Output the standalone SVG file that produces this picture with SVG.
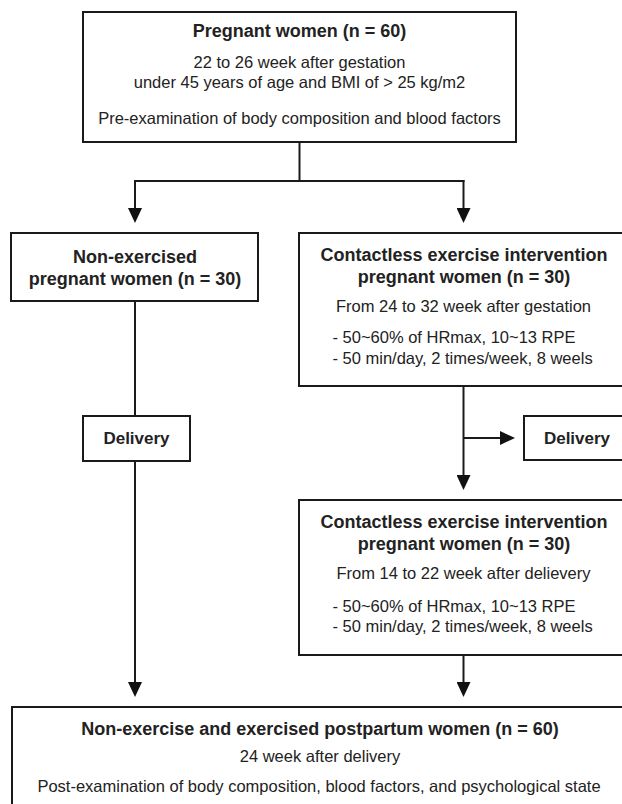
<svg xmlns="http://www.w3.org/2000/svg" width="622" height="804" viewBox="0 0 622 804">
<style>
.box{fill:#fff;stroke:#1a1a1a;stroke-width:2}
.ln{fill:none;stroke:#1a1a1a;stroke-width:2}
.t{font-family:"Liberation Sans",Arial,sans-serif;fill:#222}
.b{font-size:18px;font-weight:bold;text-anchor:middle}
.d{font-size:17px;font-weight:bold;text-anchor:middle}
.r{font-size:16.5px;text-anchor:middle}
.l{font-size:16.5px}
</style>
<defs>
<marker id="arr" viewBox="0 0 15 14" refX="10" refY="7" markerWidth="15" markerHeight="14" markerUnits="userSpaceOnUse" orient="auto">
<path d="M0,0 L15,7 L0,14 z" fill="#111"/>
</marker>
</defs>
<rect width="622" height="804" fill="#fff"/>
<g id="connectors">
<path class="ln" d="M299.5,142 V181"/>
<path class="ln" d="M134,181 H464.5"/>
<path class="ln" d="M135,180 V218" marker-end="url(#arr)"/>
<path class="ln" d="M463.5,180 V218" marker-end="url(#arr)"/>
<path class="ln" d="M135,301 V416"/>
<path class="ln" d="M135,461 V692" marker-end="url(#arr)"/>
<path class="ln" d="M463.5,386 V485" marker-end="url(#arr)"/>
<path class="ln" d="M463.5,438 H510" marker-end="url(#arr)"/>
<path class="ln" d="M463.5,655 V692" marker-end="url(#arr)"/>
</g>
<g id="n-pregnant">
<rect class="box" x="83" y="12" width="433" height="130"/>
<text class="t b" x="299.5" y="37">Pregnant women (n = 60)</text>
<text class="t r" x="299.5" y="68">22 to 26 week after gestation</text>
<text class="t r" x="299.5" y="88">under 45 years of age and BMI of &gt; 25 kg/m2</text>
<text class="t r" x="299.5" y="124">Pre-examination of body composition and blood factors</text>
</g>
<g id="n-nonex">
<rect class="box" x="11" y="233" width="247" height="68"/>
<text class="t b" x="135" y="263">Non-exercised</text>
<text class="t b" x="135" y="285">pregnant women (n = 30)</text>
</g>
<g id="n-ex1">
<rect class="box" x="299" y="233" width="340" height="153"/>
<text class="t b" x="464" y="261">Contactless exercise intervention</text>
<text class="t b" x="464" y="283">pregnant women (n = 30)</text>
<text class="t r" x="463.5" y="312">From 24 to 32 week after gestation</text>
<text class="t l" x="332.5" y="343">- 50~60% of HRmax, 10~13 RPE</text>
<text class="t l" x="332.5" y="364">- 50 min/day, 2 times/week, 8 weels</text>
</g>
<g id="n-delivery-left">
<rect class="box" x="83" y="416" width="107" height="45"/>
<text class="t d" x="136.5" y="444">Delivery</text>
</g>
<g id="n-delivery-right">
<rect class="box" x="524" y="416" width="115" height="44"/>
<text class="t d" x="577" y="444">Delivery</text>
</g>
<g id="n-ex2">
<rect class="box" x="299" y="500" width="340" height="155"/>
<text class="t b" x="464" y="528">Contactless exercise intervention</text>
<text class="t b" x="464" y="550">pregnant women (n = 30)</text>
<text class="t r" x="463.5" y="579">From 14 to 22 week after delievery</text>
<text class="t l" x="332.5" y="612">- 50~60% of HRmax, 10~13 RPE</text>
<text class="t l" x="332.5" y="632">- 50 min/day, 2 times/week, 8 weels</text>
</g>
<g id="n-postpartum">
<rect class="box" x="12" y="707" width="630" height="110"/>
<text class="t b" x="320" y="735">Non-exercise and exercised postpartum women (n = 60)</text>
<text class="t r" x="320" y="762">24 week after delivery</text>
<text class="t r" x="319" y="792">Post-examination of body composition, blood factors, and psychological state</text>
</g>
</svg>
